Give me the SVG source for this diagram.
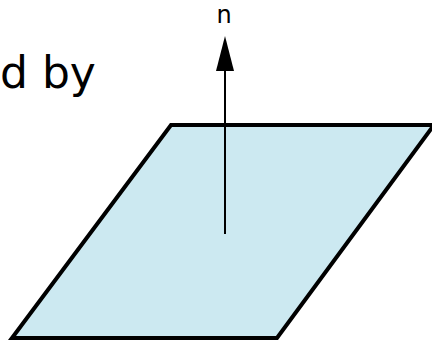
<svg xmlns="http://www.w3.org/2000/svg" width="432" height="341" viewBox="0 0 432 341">
  <style>
    .lbl { font-family: "DejaVu Sans", "Liberation Sans", sans-serif; fill: #000; }
    .plane { fill: #cce9f1; stroke: #000; stroke-width: 4; stroke-linejoin: miter; }
    .edge { stroke: #000; stroke-width: 2; fill: none; }
  </style>
  <rect width="432" height="341" fill="#ffffff"/>
  <g id="caption">
    <text class="lbl" x="0" y="88" font-size="44">d by</text>
  </g>
  <g id="plane">
    <polygon class="plane" points="171,125 434,125 277,338 12,338"/>
  </g>
  <g id="normal-label">
    <text class="lbl" x="224" y="23" font-size="24" text-anchor="middle">n</text>
  </g>
  <g id="connectors">
    <line class="edge" x1="225" y1="234" x2="225" y2="71"/>
    <polygon points="225,36 216,71 234,71" fill="#000"/>
  </g>
</svg>
